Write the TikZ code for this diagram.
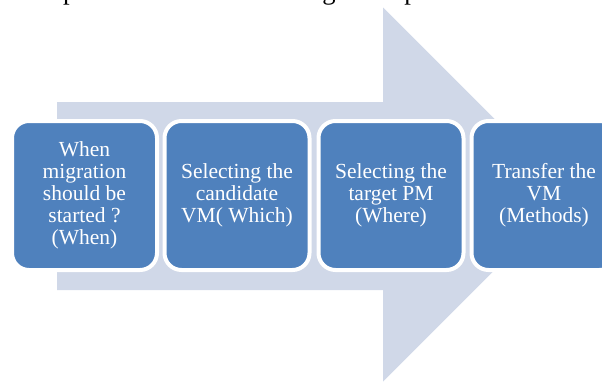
\documentclass[tikz,border=0pt]{standalone}
\usepackage{fontspec}
\setmainfont{Liberation Serif}
\definecolor{arrowfill}{HTML}{D0D8E8}
\definecolor{boxfill}{HTML}{4F81BD}
\begin{document}
\begin{tikzpicture}[x=1pt,y=-1pt,
  stepbox/.style={rectangle, rounded corners=17pt, fill=boxfill, draw=white,
    line width=4pt, minimum width=145pt, minimum height=149pt, inner sep=0pt,
    text=white, align=center, font=\fontsize{21.5}{22}\selectfont},
  captiontext/.style={anchor=base west, inner sep=0pt, font=\fontsize{26.6}{30}\selectfont}]
\useasboundingbox (0,0) rectangle (602,381);
\clip (0,0) rectangle (602,381);
\node[captiontext] (caption) at (-22,-0.5) {the complete virtual machine migration process.};
\fill[arrowfill] (57,102) -- (383,102) -- (383,7.5) -- (570,194.5) -- (383,381.5) -- (383,290) -- (57,290) -- cycle;
\node[stepbox] (b1) at (84.5,195.5) {When\\migration\\should be\\started ?\\(When)};
\node[stepbox] (b2) at (237,195.5) {Selecting the\\candidate\\VM( Which)};
\node[stepbox] (b3) at (391,195.5) {Selecting the\\target PM\\(Where)};
\node[stepbox] (b4) at (544,195.5) {Transfer the\\VM\\(Methods)};
\end{tikzpicture}
\end{document}
